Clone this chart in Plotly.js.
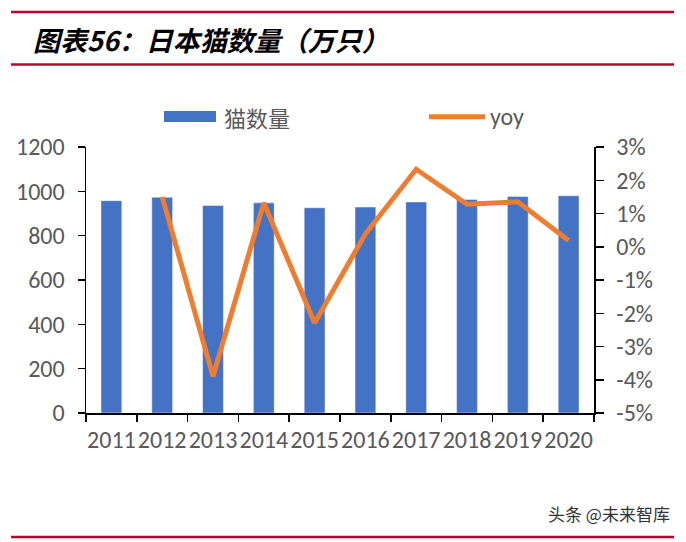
<!DOCTYPE html>
<html>
<head>
<meta charset="utf-8">
<script src="https://cdn.plot.ly/plotly-3.0.1.min.js"></script>
<style>html,body{margin:0;padding:0;background:#fff;}#chart{width:686px;height:542px;}</style>
</head>
<body>
<div id="chart"></div>
<script>
var years = ['2011','2012','2013','2014','2015','2016','2017','2018','2019','2020'];
var catCount = [958, 973, 936, 948, 926, 929, 952, 963, 977, 980];
var yoy = [null, 0.0150, -0.0390, 0.0132, -0.0229, 0.0039, 0.0233, 0.0128, 0.0135, 0.0019];
var seriesNames = ['猫数量', 'yoy'];
var leftTicks = [0, 200, 400, 600, 800, 1000, 1200];
var rightTickVals = [-0.05, -0.04, -0.03, -0.02, -0.01, 0, 0.01, 0.02, 0.03];
var rightTickText = ['-5%', '-4%', '-3%', '-2%', '-1%', '0%', '1%', '2%', '3%'];
var titleText = '图表56：日本猫数量（万只）';
var sourceText = '头条 @未来智库';

var tickFont = {family: 'Liberation Sans Narrow, Carlito, Arial Narrow, sans-serif', size: 24, color: '#595959'};
var red = '#C0002A';

var traces = [
  {type: 'bar', x: years, y: catCount, name: seriesNames[0], marker: {color: '#4472C4', line: {color: 'rgba(255,255,255,0.45)', width: 1}}, width: 0.41, yaxis: 'y', showlegend: false},
  {type: 'scatter', mode: 'lines', x: years, y: yoy, name: seriesNames[1], line: {color: '#ED7D31', width: 5}, yaxis: 'y2', showlegend: false, connectgaps: false}
];

var layout = {
  width: 686, height: 542,
  margin: {l: 86, r: 92, t: 147, b: 129},
  paper_bgcolor: '#fff', plot_bgcolor: '#fff',
  showlegend: false,
  bargap: 0.59,
  xaxis: {type: 'category', tickangle: 0, showline: true, linecolor: '#000', linewidth: 1.5, ticks: 'outside', tickson: 'boundaries', ticklen: 7, tickcolor: '#000', tickwidth: 1.5, tickfont: tickFont, showgrid: false, zeroline: false, fixedrange: true, ticklabelstandoff: 5},
  yaxis: {range: [0, 1200], tickvals: leftTicks, showline: true, linecolor: '#000', linewidth: 1.5, ticks: 'outside', ticklen: 7, tickcolor: '#000', tickwidth: 1.5, tickfont: tickFont, showgrid: false, zeroline: false, ticklabelstandoff: 8},
  yaxis2: {overlaying: 'y', side: 'right', range: [-0.05, 0.03], tickvals: rightTickVals, ticktext: rightTickText, showline: true, linecolor: '#000', linewidth: 1.5, ticks: 'outside', ticklen: 8, tickcolor: '#000', tickwidth: 1.5, tickfont: tickFont, showgrid: false, zeroline: false, ticklabelstandoff: 8},
  shapes: [
    {type: 'line', xref: 'paper', yref: 'paper', x0: -0.1476, x1: 1.1575, y0: 1.5075, y1: 1.5075, line: {color: red, width: 2.5}},
    {type: 'line', xref: 'paper', yref: 'paper', x0: -0.1476, x1: 1.1575, y0: 1.3102, y1: 1.3102, line: {color: red, width: 2.5}},
    {type: 'line', xref: 'paper', yref: 'paper', x0: -0.1476, x1: 1.1575, y0: -0.4662, y1: -0.4662, line: {color: red, width: 2.5}},
    {type: 'rect', xref: 'paper', yref: 'paper', x0: 0.1535, x1: 0.2559, y0: 1.0940, y1: 1.1353, fillcolor: '#4472C4', line: {width: 0}},
    {type: 'line', xref: 'paper', yref: 'paper', x0: 0.6752, x1: 0.7854, y0: 1.1139, y1: 1.1139, line: {color: '#ED7D31', width: 5}}
  ],
  annotations: [
    {xref: 'paper', yref: 'paper', x: -0.1083, y: 1.406, xanchor: 'left', yanchor: 'middle', showarrow: false, text: titleText, font: {family: 'Noto Sans CJK SC, sans-serif', size: 27, color: '#000', weight: 'bold', style: 'italic'}},
    {xref: 'paper', yref: 'paper', x: 0.2677, y: 1.1139, xanchor: 'left', yanchor: 'middle', showarrow: false, text: seriesNames[0], font: {family: 'Noto Sans CJK SC, sans-serif', size: 22, color: '#595959'}},
    {xref: 'paper', yref: 'paper', x: 0.7913, y: 1.1139, xanchor: 'left', yanchor: 'middle', showarrow: false, text: seriesNames[1], font: tickFont},
    {xref: 'paper', yref: 'paper', x: 1.1535, y: -0.376, xanchor: 'right', yanchor: 'middle', showarrow: false, text: sourceText, font: {family: 'Noto Sans CJK SC, sans-serif', size: 17, color: '#333'}}
  ]
};

Plotly.newPlot('chart', traces, layout, {staticPlot: true, displayModeBar: false});
</script>
</body>
</html>
